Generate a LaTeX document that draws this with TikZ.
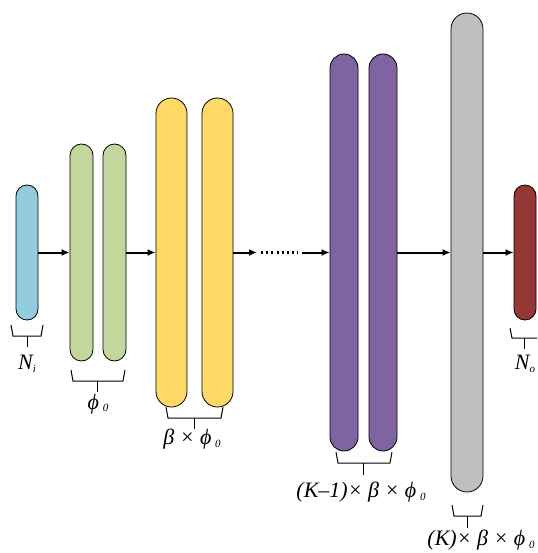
\documentclass[tikz,border=0pt]{standalone}
\usepackage{fontspec}
\setmainfont{Liberation Serif}
\usetikzlibrary{arrows.meta}
\definecolor{cyanc}{HTML}{93CDDD}
\definecolor{greenc}{HTML}{C3D69B}
\definecolor{yellowc}{HTML}{FFD966}
\definecolor{purplec}{HTML}{8064A2}
\definecolor{grayc}{HTML}{BFBFBF}
\definecolor{redc}{HTML}{953734}
\newcommand\lsub[1]{\raisebox{-0.12em}{\fontsize{11}{11}\selectfont\itshape #1}}
\begin{document}
\begin{tikzpicture}[x=1pt,y=-1pt,
  bar/.style={draw=black, line width=0.8pt, rectangle, inner sep=0pt},
  conn/.style={line width=2pt, -{Latex[length=8pt,width=7pt]}},
  brk/.style={line width=1pt},
  lab/.style={font=\fontsize{22}{24}\selectfont\itshape, inner sep=0pt}]
\useasboundingbox (0,0) rectangle (537,553);
% bars
\node[bar, fill=cyanc, rounded corners=11pt, minimum width=22pt, minimum height=135pt] (in) at (27,252.5) {};
\node[bar, fill=greenc, rounded corners=11.5pt, minimum width=23pt, minimum height=217pt] (g1) at (81.5,252.5) {};
\node[bar, fill=greenc, rounded corners=11.5pt, minimum width=23pt, minimum height=217pt] (g2) at (114.5,252.5) {};
\node[bar, fill=yellowc, rounded corners=15.5pt, minimum width=31pt, minimum height=309pt] (y1) at (171.5,252.5) {};
\node[bar, fill=yellowc, rounded corners=15.5pt, minimum width=31pt, minimum height=309pt] (y2) at (217.5,252.5) {};
\node[bar, fill=purplec, rounded corners=14pt, minimum width=28pt, minimum height=397pt] (p1) at (344,252.5) {};
\node[bar, fill=purplec, rounded corners=14pt, minimum width=28pt, minimum height=397pt] (p2) at (383,252.5) {};
\node[bar, fill=grayc, rounded corners=16pt, minimum width=32pt, minimum height=479pt] (gr) at (467,252.5) {};
\node[bar, fill=redc, rounded corners=11pt, minimum width=22pt, minimum height=135pt] (out) at (525,252.5) {};
% connectors
\coordinate (d1) at (257,252.5);
\coordinate (d2) at (302,252.5);
\draw[conn] (in.east) -- (g1.west);
\draw[conn] (g2.east) -- (y1.west);
\draw[conn] (y2.east) -- (d1);
\draw[line width=2.2pt, dash pattern=on 2pt off 3.2pt] (261,252.5) -- (298,252.5);
\draw[conn] (d2) -- (p1.west);
\draw[conn] (p2.east) -- (gr.west);
\draw[conn] (gr.east) -- (out.west);
% labels
\node[lab] (lni) at (27,364) {N\lsub{i}};
\node[lab] (lphi) at (98,404) {ϕ\,\lsub{0}};
\node[lab] (lbeta) at (192,439) {β × ϕ\,\lsub{0}};
\node[lab] (lk1) at (361,492) {(K–1)× β × ϕ\,\lsub{0}};
\node[lab] (lk) at (481,540) {(K)× β × ϕ\,\lsub{0}};
\node[lab] (lno) at (525,364) {N\lsub{o}};
% brackets
\draw[brk] (11,325) -- (13,336) -- (41,336) -- (43,325);
\draw[brk] (27,336) -- (27,347);
\draw[brk] (71,370) -- (73,381) -- (123,381) -- (125,370);
\draw[brk] (97,381) -- (97,392);
\draw[brk] (166,407) -- (168,418) -- (221,418) -- (223,407);
\draw[brk] (194,418) -- (194,429);
\draw[brk] (336,452) -- (338,463) -- (390,463) -- (392,452);
\draw[brk] (363,463) -- (363,475);
\draw[brk] (452,505) -- (454,516) -- (481,516) -- (483,505);
\draw[brk] (467,516) -- (467,528);
\draw[brk] (510,328) -- (512,338) -- (537,338);
\draw[brk] (524,338) -- (524,349);
\end{tikzpicture}
\end{document}
